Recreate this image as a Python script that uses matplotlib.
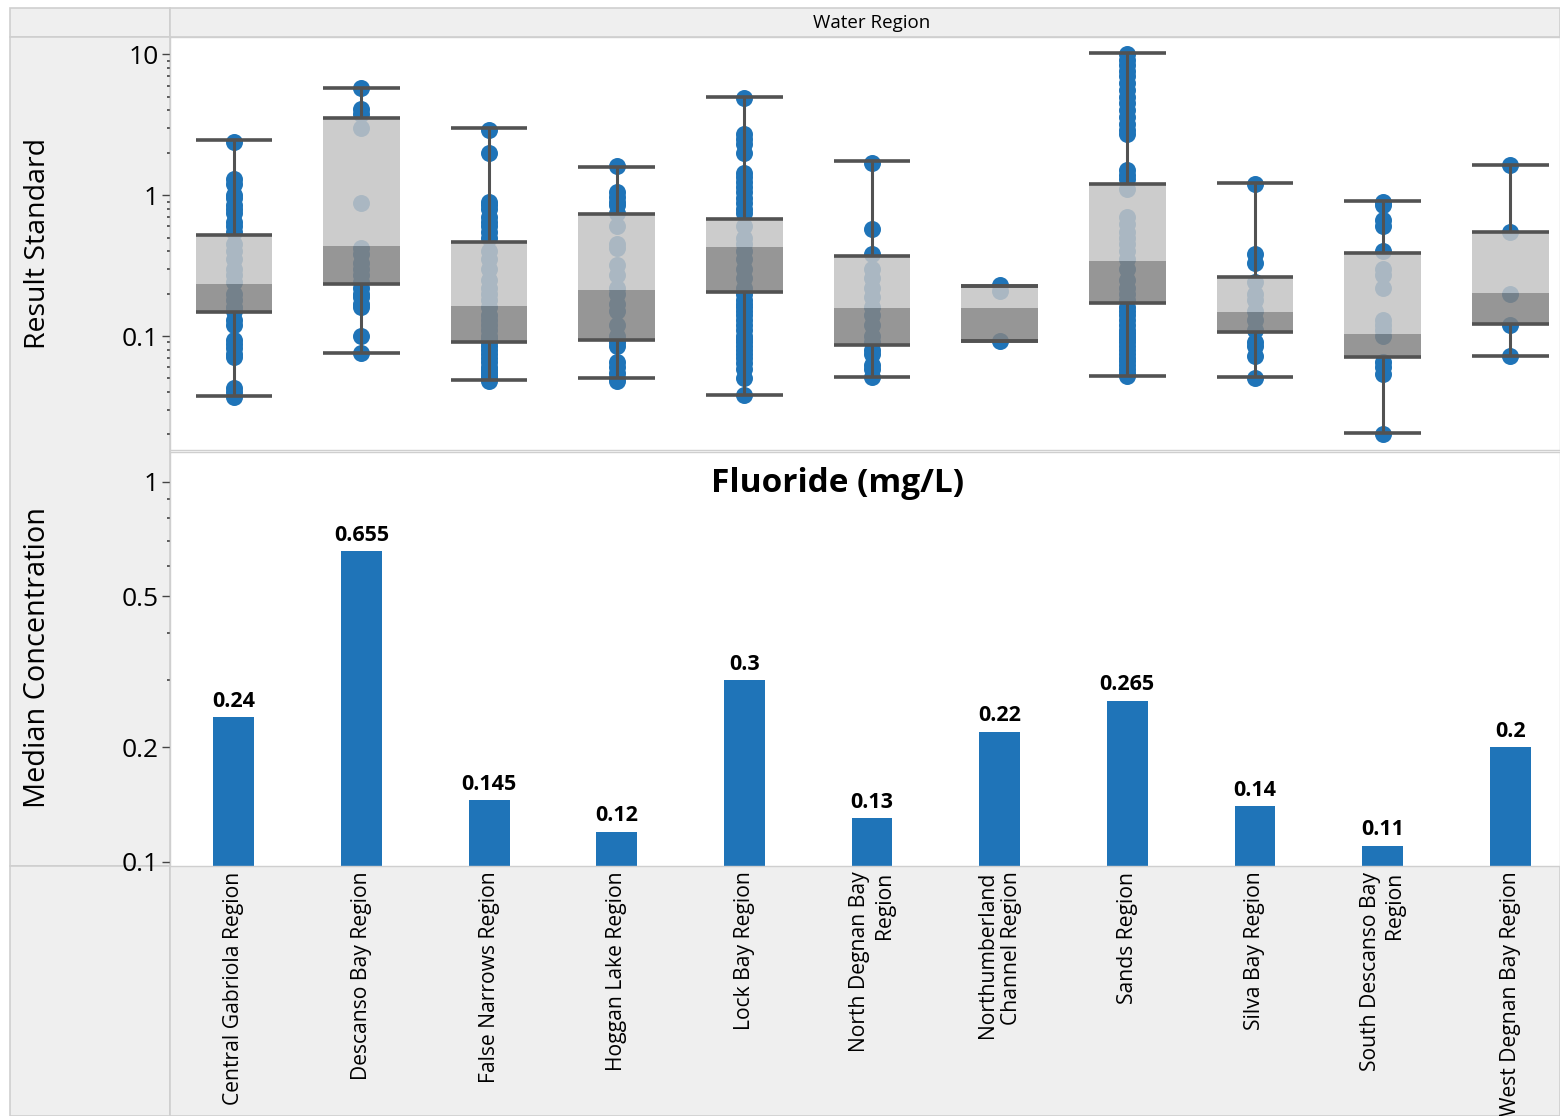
import matplotlib
matplotlib.use("Agg")
import matplotlib.pyplot as plt
from matplotlib.patches import Rectangle
from matplotlib.ticker import FixedLocator, LogLocator, NullFormatter

plt.rcParams['font.family'] = ['Open Sans', 'DejaVu Sans']

# Categories
regions = ["Central Gabriola Region", "Descanso Bay Region", "False Narrows Region",
           "Hoggan Lake Region", "Lock Bay Region", "North Degnan Bay\nRegion",
           "Northumberland\nChannel Region", "Sands Region", "Silva Bay Region",
           "South Descanso Bay\nRegion", "West Degnan Bay Region"]

# Bottom panel: median concentration
medians = [0.24, 0.655, 0.145, 0.12, 0.3, 0.13, 0.22, 0.265, 0.14, 0.11, 0.2]
median_labels = ["0.24", "0.655", "0.145", "0.12", "0.3", "0.13", "0.22", "0.265", "0.14", "0.11", "0.2"]

# Top panel: box summaries
whisk_lo = [0.0375, 0.076, 0.049, 0.0504, 0.0383, 0.0512, 0.092, 0.0518, 0.0512, 0.0204, 0.072]
q1 = [0.148, 0.234, 0.091, 0.094, 0.207, 0.087, 0.092, 0.171, 0.107, 0.071, 0.122]
box_mid = [0.234, 0.435, 0.164, 0.211, 0.427, 0.158, 0.158, 0.343, 0.147, 0.104, 0.202]
q3 = [0.526, 3.53, 0.467, 0.74, 0.674, 0.373, 0.228, 1.21, 0.261, 0.39, 0.55]
whisk_hi = [2.47, 5.78, 2.99, 1.59, 4.99, 1.74, 0.228, 10.2, 1.22, 0.91, 1.65]

# Top panel: individual results per region
pts_central = [2.4, 1.3, 1.2, 1.0, 0.95, 0.85, 0.8, 0.75, 0.65, 0.6, 0.55, 0.45, 0.4, 0.35, 0.3,
               0.27, 0.24, 0.2, 0.18, 0.16, 0.15, 0.13, 0.12, 0.094, 0.088, 0.082, 0.075, 0.071,
               0.043, 0.04, 0.037]
pts_descanso = [5.8, 4.1, 3.8, 3.0, 0.88, 0.42, 0.38, 0.33, 0.3, 0.27, 0.24, 0.22, 0.2, 0.19,
                0.17, 0.16, 0.1, 0.076]
pts_false = [2.9, 2.0, 0.9, 0.85, 0.8, 0.7, 0.65, 0.6, 0.55, 0.5, 0.4, 0.35, 0.3, 0.25, 0.22,
             0.2, 0.18, 0.16, 0.14, 0.13, 0.12, 0.11, 0.1, 0.095, 0.09, 0.085, 0.08, 0.075, 0.07,
             0.065, 0.06, 0.057, 0.055, 0.052, 0.05, 0.048]
pts_hoggan = [1.6, 1.05, 0.97, 0.9, 0.85, 0.75, 0.6, 0.45, 0.42, 0.32, 0.27, 0.22, 0.2, 0.17,
              0.15, 0.12, 0.1, 0.09, 0.085, 0.065, 0.06, 0.055, 0.05, 0.048]
pts_lock = [4.9, 2.7, 2.5, 2.3, 2.0, 1.45, 1.35, 1.25, 1.15, 1.05, 0.95, 0.88, 0.8, 0.75, 0.6,
            0.5, 0.45, 0.4, 0.35, 0.3, 0.26, 0.22, 0.2, 0.18, 0.17, 0.16, 0.15, 0.14, 0.13, 0.12,
            0.11, 0.1, 0.095, 0.09, 0.085, 0.08, 0.075, 0.07, 0.064, 0.058, 0.05, 0.038]
pts_ndegnan = [1.7, 0.58, 0.38, 0.3, 0.26, 0.22, 0.19, 0.16, 0.14, 0.12, 0.1, 0.09, 0.08,
               0.075, 0.062, 0.058, 0.051]
pts_northumb = [0.23, 0.21, 0.092]
pts_sands = [10.0, 9.2, 8.4, 7.6, 7.0, 6.3, 5.6, 5.0, 4.5, 4.0, 3.6, 3.2, 2.9, 2.7, 1.5, 1.4,
             1.3, 1.1, 0.7, 0.62, 0.55, 0.5, 0.45, 0.4, 0.35, 0.3, 0.25, 0.22, 0.2, 0.18, 0.16,
             0.15, 0.14, 0.13, 0.12, 0.11, 0.105, 0.1, 0.095, 0.09, 0.085, 0.08, 0.075, 0.07,
             0.066, 0.062, 0.058, 0.055, 0.052]
pts_silva = [1.2, 0.38, 0.33, 0.24, 0.2, 0.18, 0.15, 0.13, 0.11, 0.09, 0.085, 0.072, 0.05]
pts_sdescanso = [0.9, 0.85, 0.67, 0.6, 0.4, 0.3, 0.27, 0.22, 0.13, 0.12, 0.11, 0.1, 0.065,
                 0.06, 0.054, 0.02]
pts_wdegnan = [1.65, 0.55, 0.2, 0.12, 0.072]

points = [pts_central, pts_descanso, pts_false, pts_hoggan, pts_lock, pts_ndegnan,
          pts_northumb, pts_sands, pts_silva, pts_sdescanso, pts_wdegnan]

# Colours
BLUE = "#1f74b8"
LINE = "#525252"
PANEL = "#efefef"
BORDER = "#cfcfcf"

W, H = 1560, 1116
fig = plt.figure(figsize=(W / 100, H / 100), dpi=100)
fig.patch.set_facecolor("white")


def fx(px):
    return px / W


def fy(py):
    return 1 - py / H


# Gray frame pieces (header, left column, bottom label area)
for (x0, y0, x1, y1) in [(10, 8, 170, 37), (170, 8, 1560, 37), (10, 37, 170, 866),
                         (10, 866, 170, 1116), (170, 866, 1560, 1116)]:
    fig.add_artist(Rectangle((fx(x0), fy(y1)), fx(x1) - fx(x0), fy(y0) - fy(y1),
                             transform=fig.transFigure, facecolor=PANEL, edgecolor=BORDER,
                             linewidth=1.2, zorder=0))

ax1 = fig.add_axes([fx(170), fy(450), fx(1560) - fx(170), fy(37) - fy(450)])
ax2 = fig.add_axes([fx(170), fy(866), fx(1560) - fx(170), fy(452) - fy(866)])

x = list(range(len(regions)))
BOX_W = 0.6

# ---- Top: box plots ----
for i, vals in enumerate(points):
    ax1.scatter([i] * len(vals), vals, s=150, color=BLUE, zorder=2, linewidths=0)

ax1.bar(x, [m - a for m, a in zip(box_mid, q1)], bottom=q1, width=BOX_W,
        color="#848484", alpha=0.85, zorder=3)
ax1.bar(x, [b - m for b, m in zip(q3, box_mid)], bottom=box_mid, width=BOX_W,
        color="#c4c4c4", alpha=0.85, zorder=3)
ax1.vlines(x, whisk_lo, q1, color=LINE, linewidth=2.2, zorder=4)
ax1.vlines(x, q3, whisk_hi, color=LINE, linewidth=2.2, zorder=4)
for vals in [whisk_lo, q1, q3, whisk_hi]:
    ax1.hlines(vals, [i - BOX_W / 2 for i in x], [i + BOX_W / 2 for i in x],
               color=LINE, linewidth=2.6, zorder=4)

ax1.set_yscale("log")
ax1.set_ylim(0.0155, 13.3)
ax1.set_xlim(-0.5, 10.39)
ax1.yaxis.set_major_locator(FixedLocator([0.1, 1, 10]))
ax1.set_yticklabels(["0.1", "1", "10"])
ax1.yaxis.set_minor_locator(LogLocator(base=10, subs=range(2, 10)))
ax1.yaxis.set_minor_formatter(NullFormatter())
ax1.set_xticks([])

# ---- Bottom: median bars ----
bars = ax2.bar(x, medians, width=0.32, color=BLUE, zorder=2)
for b, lab in zip(bars, median_labels):
    ax2.annotate(lab, (b.get_x() + b.get_width() / 2, b.get_height()),
                 xytext=(0, 4), textcoords="offset points", ha="center", va="bottom",
                 fontsize=15.5, fontweight="bold", color="black")

ax2.set_yscale("log")
ax2.set_ylim(0.0974, 1.197)
ax2.set_xlim(-0.5, 10.39)
ax2.yaxis.set_major_locator(FixedLocator([0.1, 0.2, 0.5, 1]))
ax2.set_yticklabels(["0.1", "0.2", "0.5", "1"])
ax2.yaxis.set_minor_locator(FixedLocator([0.3, 0.4, 0.6, 0.7, 0.8, 0.9]))
ax2.yaxis.set_minor_formatter(NullFormatter())
ax2.set_xticks(x)
ax2.set_xticklabels(regions, rotation=90, fontsize=15.2, va="top", ha="center",
                    multialignment="right")
ax2.tick_params(axis="x", length=0, pad=4)
ax2.text(0.4806, 0.925, "Fluoride (mg/L)", transform=ax2.transAxes, ha="center",
         va="center", fontsize=24, fontweight="bold")

for ax in (ax1, ax2):
    ax.set_facecolor("white")
    for s in ax.spines.values():
        s.set_color(BORDER)
        s.set_linewidth(1.0)
    ax.tick_params(axis="y", which="major", length=6, width=1.0, color="#444444",
                   labelsize=19, pad=2)
    ax.tick_params(axis="y", which="minor", length=2.5, width=1.2, color="#444444")

fig.text(fx(872), fy(23), "Water Region", ha="center", va="center", fontsize=13.5)
fig.text(fx(38), fy(243), "Result Standard", ha="center", va="center", rotation=90,
         fontsize=20.5)
fig.text(fx(38), fy(657), "Median Concentration", ha="center", va="center", rotation=90,
         fontsize=20.8)

fig.savefig("out.png", dpi=100, facecolor=fig.get_facecolor())
